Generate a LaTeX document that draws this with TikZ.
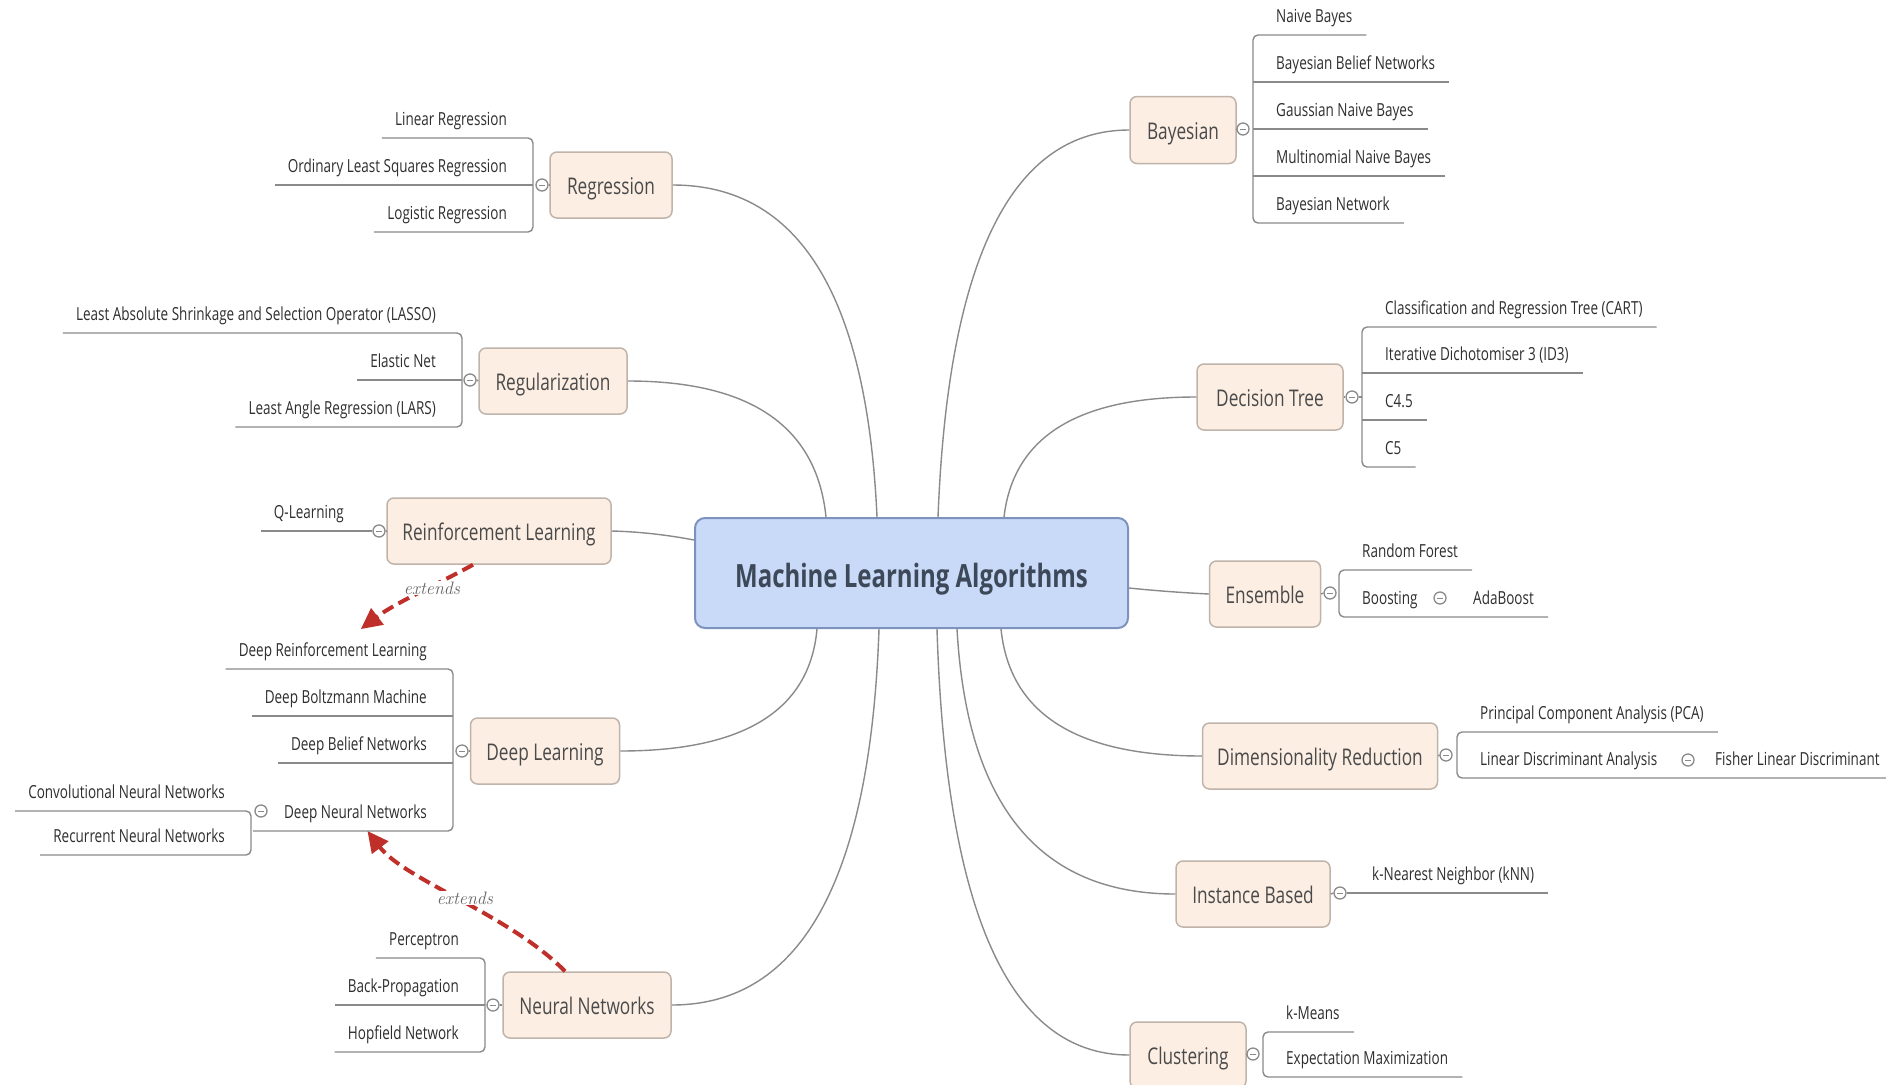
\documentclass[tikz,border=0pt]{standalone}
\usepackage{fontspec}
\newfontfamily\mapfont{Open Sans}[FakeStretch=0.75]
\usetikzlibrary{arrows.meta,calc}

\definecolor{hubfill}{HTML}{C9DAF8}
\definecolor{hubline}{HTML}{7D93BD}
\definecolor{hubtext}{HTML}{3D4858}
\definecolor{topfill}{HTML}{FCEEE3}
\definecolor{topline}{HTML}{BFB3AA}
\definecolor{toptext}{HTML}{4A4A4A}
\definecolor{wirecol}{HTML}{8A8A8A}
\definecolor{kidtext}{HTML}{2E2E2E}
\definecolor{relred}{HTML}{C0302B}
\definecolor{notecol}{HTML}{666666}

\begin{document}
\begin{tikzpicture}[x=1pt,y=-1pt,
  hub/.style={draw=hubline, line width=2pt, fill=hubfill, rounded corners=10pt,
    minimum width=433pt, minimum height=110pt, inner sep=0pt,
    text height=29pt, text depth=1pt,
    font=\mapfont\bfseries\fontsize{32}{38}\selectfont, text=hubtext},
  topic/.style={draw=topline, line width=1.5pt, fill=topfill, rounded corners=7pt,
    minimum height=66pt, inner sep=0pt, text height=21pt, text depth=2pt,
    font=\mapfont\fontsize{23}{27}\selectfont, text=toptext},
  kidbase/.style={inner xsep=13pt, inner ysep=0pt, text height=13pt, text depth=12.5pt,
    font=\mapfont\fontsize{18}{21}\selectfont, text=kidtext},
  kidL/.style={kidbase, anchor=south east},
  kidR/.style={kidbase, anchor=south west, inner xsep=14pt},
  knob/.style={circle, draw=wirecol, fill=white, line width=1.3pt, minimum size=12pt,
    inner sep=0pt, path picture={\draw[wirecol, line width=0.9pt]
      ([xshift=-3pt]path picture bounding box.center) --
      ([xshift=3pt]path picture bounding box.center);}},
  wire/.style={draw=wirecol, line width=1.4pt},
  twig/.style={draw=wirecol, line width=1.4pt, rounded corners=5pt},
  quad/.style={to path={.. controls ($(\tikztostart)!0.667!(#1)$) and
    ($(\tikztotarget)!0.667!(#1)$) .. (\tikztotarget)}},
  rel/.style={draw=relred, line width=4pt, dash pattern=on 12pt off 6pt,
    -{Triangle[length=21pt,width=20pt]}},
  relnote/.style={fill=white, inner sep=1pt, text=notecol,
    font=\itshape\fontsize{18}{21}\selectfont}
]
\fill[white] (0,0) rectangle (1886,1084);
\useasboundingbox (0,0) rectangle (1886,1084);

% central topic
\node[hub] (ml) at (911.5,573) {Machine Learning Algorithms};

% main topics
\node[topic, minimum width=122pt] (rg) at (611,185) {Regression};
\node[topic, minimum width=148pt] (rz) at (553,381) {Regularization};
\node[topic, minimum width=224pt] (rl) at (499,531) {Reinforcement Learning};
\node[topic, minimum width=149pt] (dl) at (545,751) {Deep Learning};
\node[topic, minimum width=168pt] (nn) at (587,1005) {Neural Networks};
\node[topic, minimum width=106pt, minimum height=67pt] (by) at (1183,130) {Bayesian};
\node[topic, minimum width=146pt] (dt) at (1270,397) {Decision Tree};
\node[topic, minimum width=111pt] (en) at (1265,594) {Ensemble};
\node[topic, minimum width=235pt] (dr) at (1320,756) {Dimensionality Reduction};
\node[topic, minimum width=154pt] (ib) at (1253,894) {Instance Based};
\node[topic, minimum width=116pt] (cl) at (1188,1055) {Clustering};

% attachment points on the central topic
\coordinate (mRg) at ($(ml.north west)+(183,0)$);
\coordinate (mRz) at ($(ml.north west)+(132,0)$);
\coordinate (mRl) at ($(ml.north west)+(0,23)$);
\coordinate (mDl) at ($(ml.south west)+(123,0)$);
\coordinate (mNn) at ($(ml.south west)+(185,0)$);
\coordinate (mBy) at ($(ml.north west)+(244,0)$);
\coordinate (mDt) at ($(ml.north west)+(310,0)$);
\coordinate (mEn) at ($(ml.north east)+(0,71)$);
\coordinate (mDr) at ($(ml.south west)+(307,0)$);
\coordinate (mIb) at ($(ml.south west)+(263,0)$);
\coordinate (mCl) at ($(ml.south west)+(243,0)$);

% curved branches
\draw[wire] (mRg) to[quad={862,185}] (rg.east);
\draw[wire] (mRz) to[quad={812,381}] (rz.east);
\draw[wire] (mRl) to[quad={652,532}] (rl.east);
\draw[wire] (mDl) to[quad={806,751}] (dl.east);
\draw[wire] (mNn) to[quad={866,1005}] (nn.east);
\draw[wire] (mBy) to[quad={953,130}] (by.west);
\draw[wire] (mDt) to[quad={1018,397}] (dt.west);
\draw[wire] (mEn) to[quad={1168,592}] (en.west);
\draw[wire] (mDr) to[quad={1014,756}] (dr.west);
\draw[wire] (mIb) to[quad={972,894}] (ib.west);
\draw[wire] (mCl) to[quad={950,1055}] (cl.west);

% ---------- Regression ----------
\coordinate (rgB) at (533,185);
\node[kidL] (rg1) at (520,138) {Linear Regression};
\node[kidL] (rg2) at (520,185) {Ordinary Least Squares Regression};
\node[kidL] (rg3) at (520,232) {Logistic Regression};
\draw[twig] (rg1.south west) -- (rgB |- rg1.south) -- (rgB |- rg3.south) -- (rg3.south west);
\draw[twig] (rg2.south west) -- (rgB);
\node[knob] (rgK) at (542,185) {};
\draw[wire] (rg.west) -- (rgK.east);

% ---------- Regularization ----------
\coordinate (rzB) at (462,380);
\node[kidL] (rz1) at (449,333) {Least Absolute Shrinkage and Selection Operator (LASSO)};
\node[kidL] (rz2) at (449,380) {Elastic Net};
\node[kidL] (rz3) at (449,427) {Least Angle Regression (LARS)};
\draw[twig] (rz1.south west) -- (rzB |- rz1.south) -- (rzB |- rz3.south) -- (rz3.south west);
\draw[twig] (rz2.south west) -- (rzB);
\node[knob] (rzK) at (470,380) {};
\draw[wire] (rz.west) -- (rzK.east);

% ---------- Reinforcement Learning ----------
\node[kidL] (rl1) at (357,531) {Q-Learning};
\node[knob] (rlK) at (379,531) {};
\draw[twig] (rl1.south west) -- (rlK.west);
\draw[wire] (rl.west) -- (rlK.east);

% ---------- Deep Learning ----------
\coordinate (dlB) at (453,751);
\node[kidL] (dl1) at (440,669) {Deep Reinforcement Learning};
\node[kidL] (dl2) at (440,716) {Deep Boltzmann Machine};
\node[kidL] (dl3) at (440,763) {Deep Belief Networks};
\node[kidL] (dl4) at (440,831) {Deep Neural Networks};
\draw[twig] (dl1.south west) -- (dlB |- dl1.south) -- (dlB |- dl4.south) -- (253,831);
\draw[twig] (dl2.south west) -- (dlB |- dl2.south);
\draw[twig] (dl3.south west) -- (dlB |- dl3.south);
\node[knob] (dlK) at (462,751) {};
\draw[wire] (dl.west) -- (dlK.east);

% Deep Neural Networks sub-branch
\coordinate (dnB) at (251,811);
\node[kidL] (dn1) at (238,811) {Convolutional Neural Networks};
\node[kidL] (dn2) at (238,855) {Recurrent Neural Networks};
\draw[twig] (dn1.south west) -- (dnB) -- (dnB |- dn2.south) -- (dn2.south west);
\node[knob] (dnK) at (261,811) {};

% ---------- Neural Networks ----------
\coordinate (nnB) at (485,1005);
\node[kidL] (nn1) at (472,958) {Perceptron};
\node[kidL] (nn2) at (472,1005) {Back-Propagation};
\node[kidL] (nn3) at (472,1052) {Hopfield Network};
\draw[twig] (nn1.south west) -- (nnB |- nn1.south) -- (nnB |- nn3.south) -- (nn3.south west);
\draw[twig] (nn2.south west) -- (nnB);
\node[knob] (nnK) at (493,1005) {};
\draw[wire] (nn.west) -- (nnK.east);

% ---------- Bayesian ----------
\coordinate (byB) at (1253,129);
\node[kidR] (by1) at (1262,35) {Naive Bayes};
\node[kidR] (by2) at (1262,82) {Bayesian Belief Networks};
\node[kidR] (by3) at (1262,129) {Gaussian Naive Bayes};
\node[kidR] (by4) at (1262,176) {Multinomial Naive Bayes};
\node[kidR] (by5) at (1262,223) {Bayesian Network};
\draw[twig] (by1.south east) -- (byB |- by1.south) -- (byB |- by5.south) -- (by5.south east);
\draw[twig] (by2.south east) -- (byB |- by2.south);
\draw[twig] (by3.south east) -- (byB);
\draw[twig] (by4.south east) -- (byB |- by4.south);
\node[knob] (byK) at (1243,129) {};
\draw[wire] (by.east) -- (byK.west);

% ---------- Decision Tree ----------
\coordinate (dtB) at (1362,397);
\node[kidR] (dt1) at (1371,327) {Classification and Regression Tree (CART)};
\node[kidR] (dt2) at (1371,373) {Iterative Dichotomiser 3 (ID3)};
\node[kidR] (dt3) at (1371,420) {C4.5};
\node[kidR] (dt4) at (1371,467) {C5};
\draw[twig] (dt1.south east) -- (dtB |- dt1.south) -- (dtB |- dt4.south) -- (dt4.south east);
\draw[twig] (dt2.south east) -- (dtB |- dt2.south);
\draw[twig] (dt3.south east) -- (dtB |- dt3.south);
\node[knob] (dtK) at (1352,397) {};
\draw[wire] (dt.east) -- (dtK.west) (dtK.east) -- (dtB);

% ---------- Ensemble ----------
\coordinate (enB) at (1339,593);
\node[kidR] (en1) at (1348,570) {Random Forest};
\node[kidR] (en2) at (1348,617) {Boosting};
\node[kidR] (en3) at (1459,617) {AdaBoost};
\draw[twig] (en1.south east) -- (enB |- en1.south) -- (enB |- en2.south) -- (en3.south east);
\node[knob] (enK) at (1330,593) {};
\draw[wire] (en.east) -- (enK.west);
\node[knob] (enK2) at (1440,598) {};

% ---------- Dimensionality Reduction ----------
\coordinate (drB) at (1457,755);
\node[kidR] (dr1) at (1466,732) {Principal Component Analysis (PCA)};
\node[kidR] (dr2) at (1466,778) {Linear Discriminant Analysis};
\node[kidR] (dr3) at (1701,778) {Fisher Linear Discriminant};
\draw[twig] (dr1.south east) -- (drB |- dr1.south) -- (drB |- dr2.south) -- (dr3.south east);
\node[knob] (drK) at (1446,755) {};
\draw[wire] (dr.east) -- (drK.west);
\node[knob] (drK2) at (1688,760) {};

% ---------- Instance Based ----------
\node[kidR] (ib1) at (1358,893) {k-Nearest Neighbor (kNN)};
\node[knob] (ibK) at (1340,893) {};
\draw[wire] (ib.east) -- (ibK.west);
\draw[twig] (ibK.east) -- (ib1.south east);

% ---------- Clustering ----------
\coordinate (clB) at (1263,1054);
\node[kidR] (cl1) at (1272,1032) {k-Means};
\node[kidR] (cl2) at (1272,1077) {Expectation Maximization};
\draw[twig] (cl1.south east) -- (clB |- cl1.south) -- (clB |- cl2.south) -- (cl2.south east);
\node[knob] (clK) at (1253,1054) {};
\draw[wire] (cl.east) -- (clK.west);

% ---------- "extends" relations ----------
\draw[rel] ($(rl.south)+(-26,0)$) .. controls (440,583) and (395,603) .. ($(dl1.north)+(28,-14)$);
\node[relnote] (x1) at (432,588) {extends};
\draw[rel] ($(nn.north)+(-22,0)$) .. controls (510,915) and (405,880) .. ($(dl4.south)+(12,0)$);
\node[relnote] (x2) at (465,898) {extends};
\end{tikzpicture}
\end{document}
